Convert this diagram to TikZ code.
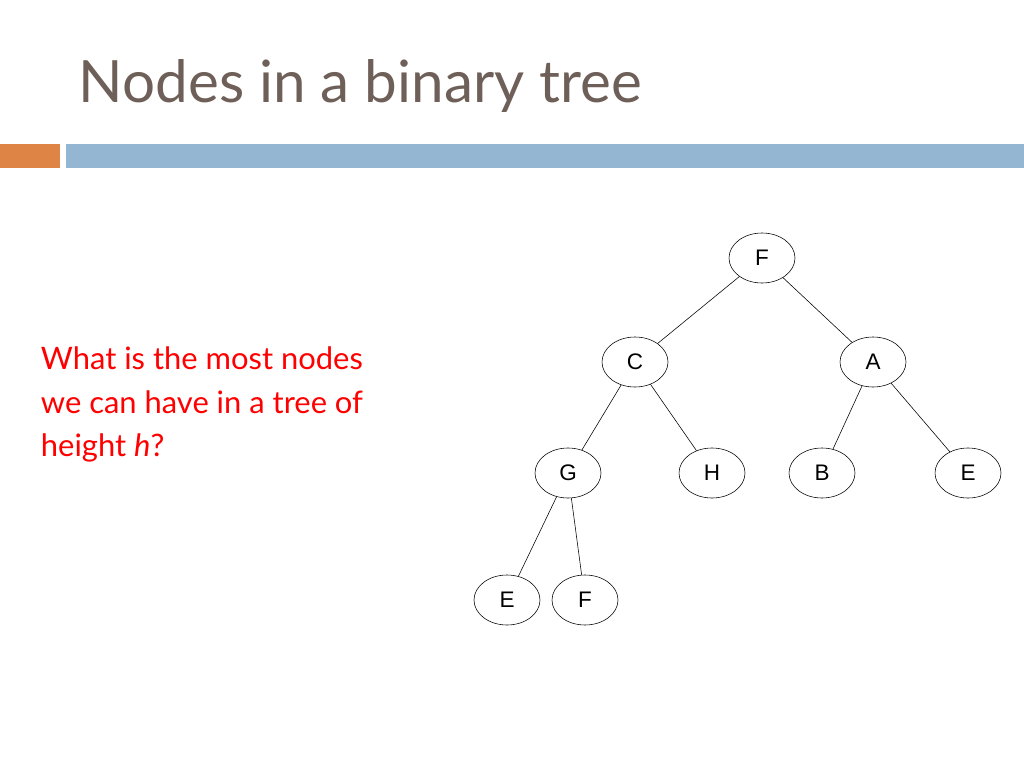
\documentclass[tikz,border=0pt]{standalone}
\usepackage{fontspec}
\setmainfont{Liberation Sans}
\newfontfamily\slidefont{Lato}
\usetikzlibrary{shapes.geometric}
\definecolor{titlegray}{RGB}{110,96,88}
\definecolor{barorange}{RGB}{222,132,68}
\definecolor{barblue}{RGB}{148,182,210}
\begin{document}
\begin{tikzpicture}[x=0.025cm, y=-0.025cm]
\tikzset{tnode/.style={draw, ellipse, minimum width=1.65cm, minimum height=1.25cm, font=\fontsize{16}{19}\selectfont}}
\useasboundingbox (0,0) rectangle (1024,768);
\node[anchor=west, text=titlegray, font=\slidefont\fontsize{41.5}{48}\selectfont] (title) at (74,86) {Nodes in a binary tree};
\fill[barorange] (0,144) rectangle (60,168);
\fill[barblue] (66,144) rectangle (1024,168);
\node[anchor=north west, text=red, align=left, font=\slidefont\fontsize{22}{31}\selectfont] (question) at (36,342) {What is the most nodes\\we can have in a tree of\\height \textit{h}?};
\node[tnode] (f) at (762,258) {F};
\node[tnode] (c) at (635,362) {C};
\node[tnode] (a) at (873,362) {A};
\node[tnode] (g) at (568,473) {G};
\node[tnode] (h) at (712,473) {H};
\node[tnode] (b) at (822,473) {B};
\node[tnode] (e) at (968,473) {E};
\node[tnode] (e2) at (507,600) {E};
\node[tnode] (f2) at (585,600) {F};
\draw (f) -- (c);
\draw (f) -- (a);
\draw (c) -- (g);
\draw (c) -- (h);
\draw (a) -- (b);
\draw (a) -- (e);
\draw (g) -- (e2);
\draw (g) -- (f2);
\end{tikzpicture}
\end{document}
